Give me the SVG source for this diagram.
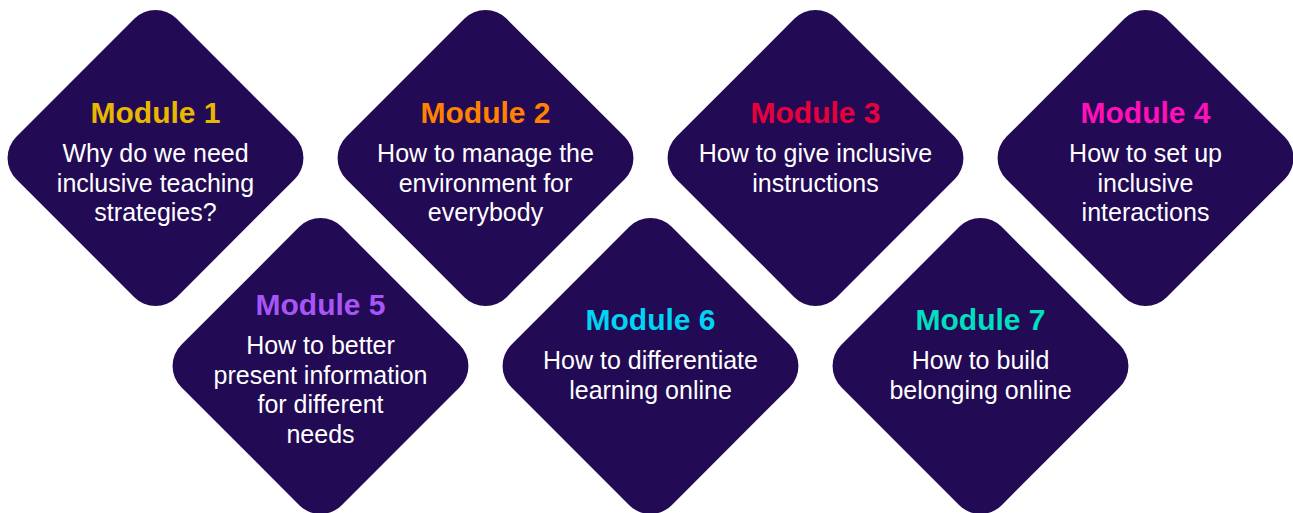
<svg xmlns="http://www.w3.org/2000/svg" width="1293" height="513" viewBox="0 0 1293 513">
<style>
.d{fill:#230a54}
.t{font-family:"Liberation Sans",Arial,sans-serif;font-weight:bold;font-size:30px;text-anchor:middle}
.b{font-family:"Liberation Sans",Arial,sans-serif;font-size:25px;fill:#ffffff;text-anchor:middle}
</style>
<defs>
<rect id="dia" x="-113.4" y="-113.4" width="226.8" height="226.8" rx="30" ry="30" transform="rotate(45)"/>
</defs>
<rect width="1293" height="513" fill="#ffffff"/>
<g id="connectors"/>
<g id="module1" transform="translate(155.5,158)">
<use href="#dia" class="d"/>
<text class="t" x="0" y="-35" fill="#e8b800">Module 1</text>
<text class="b" x="0" y="4">Why do we need</text>
<text class="b" x="0" y="33.5">inclusive teaching</text>
<text class="b" x="0" y="63">strategies?</text>
</g>
<g id="module2" transform="translate(485.5,158)">
<use href="#dia" class="d"/>
<text class="t" x="0" y="-35" fill="#ff8200">Module 2</text>
<text class="b" x="0" y="4">How to manage the</text>
<text class="b" x="0" y="33.5">environment for</text>
<text class="b" x="0" y="63">everybody</text>
</g>
<g id="module3" transform="translate(815.5,158)">
<use href="#dia" class="d"/>
<text class="t" x="0" y="-35" fill="#e8003c">Module 3</text>
<text class="b" x="0" y="4">How to give inclusive</text>
<text class="b" x="0" y="33.5">instructions</text>
</g>
<g id="module4" transform="translate(1145.5,158)">
<use href="#dia" class="d"/>
<text class="t" x="0" y="-35" fill="#ff10b8">Module 4</text>
<text class="b" x="0" y="4">How to set up</text>
<text class="b" x="0" y="33.5">inclusive</text>
<text class="b" x="0" y="63">interactions</text>
</g>
<g id="module5" transform="translate(320.5,366)">
<use href="#dia" class="d"/>
<text class="t" x="0" y="-51" fill="#a855f7">Module 5</text>
<text class="b" x="0" y="-12">How to better</text>
<text class="b" x="0" y="17.5">present information</text>
<text class="b" x="0" y="47">for different</text>
<text class="b" x="0" y="76.5">needs</text>
</g>
<g id="module6" transform="translate(650.5,366)">
<use href="#dia" class="d"/>
<text class="t" x="0" y="-36" fill="#00d4f2">Module 6</text>
<text class="b" x="0" y="3">How to differentiate</text>
<text class="b" x="0" y="32.5">learning online</text>
</g>
<g id="module7" transform="translate(980.5,366)">
<use href="#dia" class="d"/>
<text class="t" x="0" y="-36" fill="#00e0c0">Module 7</text>
<text class="b" x="0" y="3">How to build</text>
<text class="b" x="0" y="32.5">belonging online</text>
</g>
</svg>
